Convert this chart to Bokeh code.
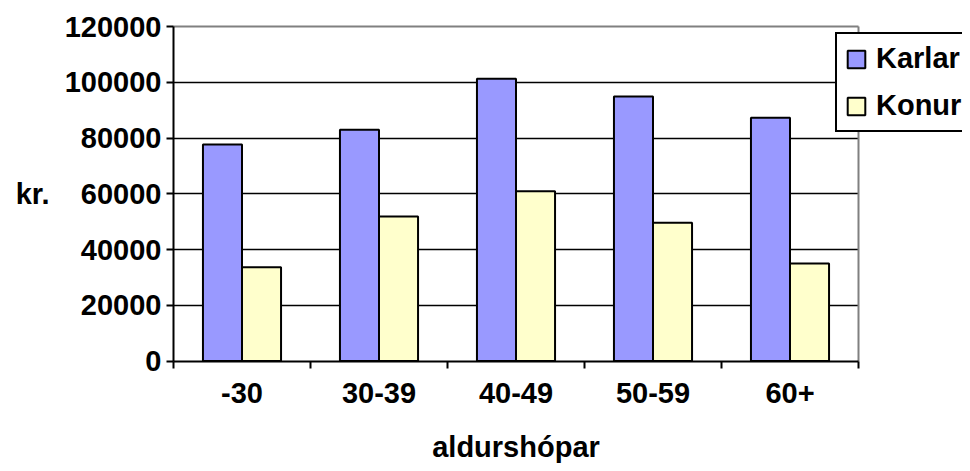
from bokeh.plotting import figure
from bokeh.models import (ColumnDataSource, Range1d, FixedTicker, NumeralTickFormatter,
                          Legend, LegendItem, Grid, Label)
from bokeh.transform import dodge
from bokeh.embed import file_html
from bokeh.resources import INLINE

categories = ["-30", "30-39", "40-49", "50-59", "60+"]
karlar = [77700, 83000, 101300, 94900, 87300]
konur = [33600, 51800, 60900, 49600, 35000]
y_ticks = [0, 20000, 40000, 60000, 80000, 100000, 120000]
x_title = "aldurshópar"
y_title = "kr."

FONT = "Liberation Sans"
FS = "29px"

# canvas and plot-area geometry (pixels)
W, H = 962, 463
LEFT, TOP, RIGHT_EDGE, BOTTOM_EDGE = 173, 26, 858, 360.5
n = len(categories)
ymax = y_ticks[-1]

# the frame covers the whole canvas; axes are fixed at 0
ux = (RIGHT_EDGE - LEFT) / n
uy = (BOTTOM_EDGE - TOP) / ymax
x_range = Range1d(-LEFT / ux, (W - LEFT) / ux)
y_range = Range1d(-(H - BOTTOM_EDGE) / uy, ymax + TOP / uy)

xpos = [i + 0.5 for i in range(n)]
src = ColumnDataSource(dict(x=xpos, cat=categories, karlar=karlar, konur=konur))

p = figure(width=W, height=H, output_backend="svg", toolbar_location=None,
           x_range=x_range, y_range=y_range,
           min_border_left=0, min_border_right=0, min_border_top=0, min_border_bottom=0)
p.background_fill_color = "white"
p.border_fill_color = "white"
p.outline_line_color = None

bw = 0.285
r1 = p.vbar(x=dodge("x", -bw / 2, range=p.x_range), top="karlar", width=bw, source=src,
            fill_color="#9999FF", line_color="black", line_width=2)
r2 = p.vbar(x=dodge("x", bw / 2, range=p.x_range), top="konur", width=bw, source=src,
            fill_color="#FFFFCC", line_color="black", line_width=2)

# x axis
p.xaxis.fixed_location = 0
p.xaxis.bounds = (0, n)
p.xaxis.ticker = FixedTicker(ticks=xpos, minor_ticks=list(range(n + 1)))
p.xaxis.major_label_overrides = {x: c for x, c in zip(xpos, categories)}
p.xaxis.major_tick_out = 0
p.xaxis.major_tick_in = 0
p.xaxis.minor_tick_out = 7
p.xaxis.minor_tick_in = 0
p.xaxis.minor_tick_line_color = "black"
p.xaxis.minor_tick_line_width = 2

# y axis
p.yaxis.fixed_location = 0
p.yaxis.bounds = (0, ymax)
p.yaxis.ticker = FixedTicker(ticks=y_ticks, minor_ticks=[])
p.yaxis.formatter = NumeralTickFormatter(format="0")
p.yaxis.major_tick_out = 7
p.yaxis.major_tick_in = 0

for ax in (p.xaxis, p.yaxis):
    ax.axis_line_color = "black"
    ax.axis_line_width = 2
    ax.major_tick_line_color = "black"
    ax.major_tick_line_width = 2
    ax.major_label_text_font = FONT
    ax.major_label_text_font_style = "bold"
    ax.major_label_text_font_size = FS
    ax.major_label_text_color = "black"

p.xaxis.major_label_standoff = 15
p.yaxis.major_label_standoff = 5

# axis titles
p.add_layout(Label(x=n / 2, y=0, y_offset=-86, text=x_title,
                   text_align="center", text_baseline="alphabetic",
                   text_font=FONT, text_font_style="bold", text_font_size=FS,
                   text_color="black"))
p.add_layout(Label(x=0, y=ymax / 2, x_offset=-(LEFT - 49), text=y_title,
                   text_align="right", text_baseline="middle",
                   text_font=FONT, text_font_style="bold", text_font_size=FS,
                   text_color="black"))

p.xgrid.grid_line_color = None
p.ygrid.ticker = FixedTicker(ticks=y_ticks[1:-1])
p.ygrid.grid_line_color = "black"
p.ygrid.grid_line_width = 1.5
p.ygrid.cross_bounds = (0, n)

# plot-area border (top and right), gray
top_border = Grid(dimension=1, ticker=FixedTicker(ticks=[ymax]), cross_bounds=(0, n),
                  grid_line_color="#808080", grid_line_width=2)
right_border = Grid(dimension=0, ticker=FixedTicker(ticks=[n]), cross_bounds=(0, ymax),
                    grid_line_color="#808080", grid_line_width=2)
p.add_layout(top_border)
p.add_layout(right_border)

legend = Legend(items=[LegendItem(label="Karlar", renderers=[r1]),
                       LegendItem(label="Konur", renderers=[r2])],
                location=(835, H - 132))
legend.label_text_font = FONT
legend.label_text_font_style = "bold"
legend.label_text_font_size = FS
legend.label_text_color = "black"
legend.glyph_width = 22
legend.glyph_height = 22
legend.label_standoff = 9
legend.padding = 8
legend.spacing = 14
legend.margin = 0
legend.border_line_color = "black"
legend.border_line_width = 2
legend.border_line_alpha = 1
legend.background_fill_color = "white"
legend.background_fill_alpha = 1
p.add_layout(legend, "center")

open("out.html", "w").write(file_html(p, INLINE))
